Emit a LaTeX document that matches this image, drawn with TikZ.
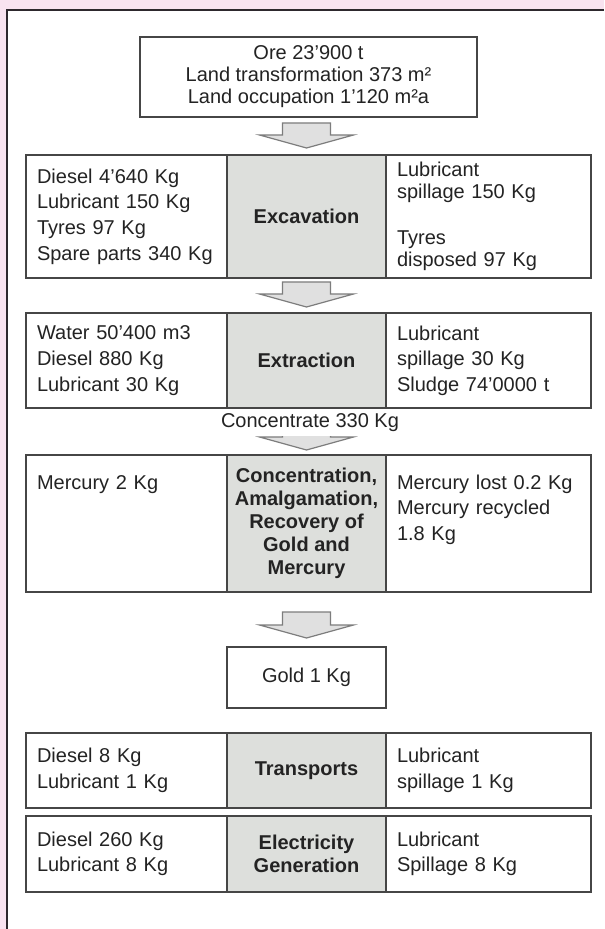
\documentclass[tikz,border=0pt]{standalone}
\usepackage{fontspec}
\setmainfont{Liberation Sans}
\usetikzlibrary{positioning,calc}
\definecolor{pinkbg}{RGB}{248,227,240}
\definecolor{frameln}{RGB}{45,40,45}
\definecolor{cellln}{RGB}{70,70,70}
\definecolor{stagefill}{RGB}{221,223,220}
\definecolor{arrfill}{RGB}{224,224,224}
\definecolor{arrln}{RGB}{125,125,125}
\definecolor{inktext}{RGB}{35,35,35}

% block arrow between two stages: from, to, gap below from, gap above to
\newcommand{\downflow}[4]{%
  \draw[flowarrow] ($(#2.north |- #1.south)+(-24,#3)$) -- ($(#2.north |- #1.south)+(24,#3)$)
    -- ($(#2.north)+(24,-#4-13)$) -- ($(#2.north)+(47,-#4-13)$)
    -- ($(#2.north)+(0,-#4)$) -- ($(#2.north)+(-47,-#4-13)$)
    -- ($(#2.north)+(-24,-#4-13)$) -- cycle;}

\begin{document}
\begin{tikzpicture}[x=0.5pt, y=-0.5pt,
    font=\fontsize{10}{12.8}\selectfont, text=inktext,
    cell/.style={rectangle, draw=cellln, line width=0.9pt, outer sep=0pt,
                 inner xsep=5.5pt, inner ysep=2pt},
    stage/.style={cell, fill=stagefill, minimum width=79.5pt, inner xsep=2pt,
                  align=center, font=\fontsize{10}{11.5}\selectfont\bfseries},
    incell/.style={cell, fill=white, text width=89.5pt, align=left},
    outcell/.style={cell, fill=white, text width=91.5pt, align=left},
    topcell/.style={text height=7pt, text depth=41.5pt, inner ysep=10pt},
    flowarrow/.style={draw=arrln, fill=arrfill, line width=0.6pt, line join=miter},
  ]
    \useasboundingbox (0,0) rectangle (604,929);
    \fill[pinkbg] (0,0) rectangle (604,929);
    \fill[white] (7,10) rectangle (604,929);
    \draw[frameln, line width=1.2pt] (7,929) -- (7,10) -- (604,10);

    \node[cell, fill=white, minimum width=168.5pt, minimum height=40pt, align=center,
          font=\fontsize{10}{11}\selectfont] (ore) at (308.5,77)
      {Ore 23'900 t\\Land transformation 373 m²\\Land occupation 1'120 m²a};

    % excavation
    \node[stage, minimum height=61.5pt] (excC) at (306.5,216.5) {Excavation};
    \node[incell, minimum height=61.5pt, left=0pt of excC] (excL)
      {Diesel 4'640 Kg\\Lubricant 150 Kg\\Tyres 97 Kg\\Spare parts 340 Kg};
    \node[outcell, minimum height=61.5pt, right=0pt of excC, font=\fontsize{10}{11.2}\selectfont] (excR)
      {Lubricant\\spillage 150 Kg\\[11.5pt]Tyres\\disposed 97 Kg};

    % extraction
    \node[stage, minimum height=47.5pt] (extC) at (306.5,360.5) {Extraction};
    \node[incell, minimum height=47.5pt, left=0pt of extC] (extL)
      {Water 50'400 m3\\Diesel 880 Kg\\Lubricant 30 Kg};
    \node[outcell, minimum height=47.5pt, right=0pt of extC] (extR)
      {Lubricant\\spillage 30 Kg\\Sludge 74'0000 t};

    % concentration and amalgamation
    \node[stage, minimum height=68.5pt] (cncC) at (306.5,523.5)
      {Concentration,\\Amalgamation,\\Recovery of\\Gold and\\Mercury};
    \node[incell, topcell, minimum height=68.5pt, left=0pt of cncC] (cncL) {Mercury 2 Kg};
    \node[outcell, topcell, minimum height=68.5pt, right=0pt of cncC] (cncR)
      {Mercury lost 0.2 Kg\\Mercury recycled\\1.8 Kg};

    \node[cell, fill=white, minimum width=79.5pt, minimum height=30.5pt] (gold) at (306.5,677.5) {Gold 1 Kg};

    % transports
    \node[stage, minimum height=37.5pt] (trnC) at (306.5,770.5) {Transports};
    \node[incell, minimum height=37.5pt, left=0pt of trnC] (trnL) {Diesel 8 Kg\\Lubricant 1 Kg};
    \node[outcell, minimum height=37.5pt, right=0pt of trnC] (trnR) {Lubricant\\spillage 1 Kg};

    % electricity
    \node[stage, minimum height=38pt] (eleC) at (306.5,854) {Electricity\\Generation};
    \node[incell, minimum height=38pt, left=0pt of eleC] (eleL) {Diesel 260 Kg\\Lubricant 8 Kg};
    \node[outcell, minimum height=38pt, right=0pt of eleC] (eleR) {Lubricant\\Spillage 8 Kg};

    \downflow{ore}{excC}{6}{7}
    \downflow{excC}{extC}{4}{6}
    \downflow{extC}{cncC}{16}{5}
    \downflow{cncC}{gold}{20}{9}
    \node[fill=white, inner xsep=1pt, inner ysep=2pt] (cctr) at (310,423) {Concentrate 330 Kg};
  \end{tikzpicture}
\end{document}
